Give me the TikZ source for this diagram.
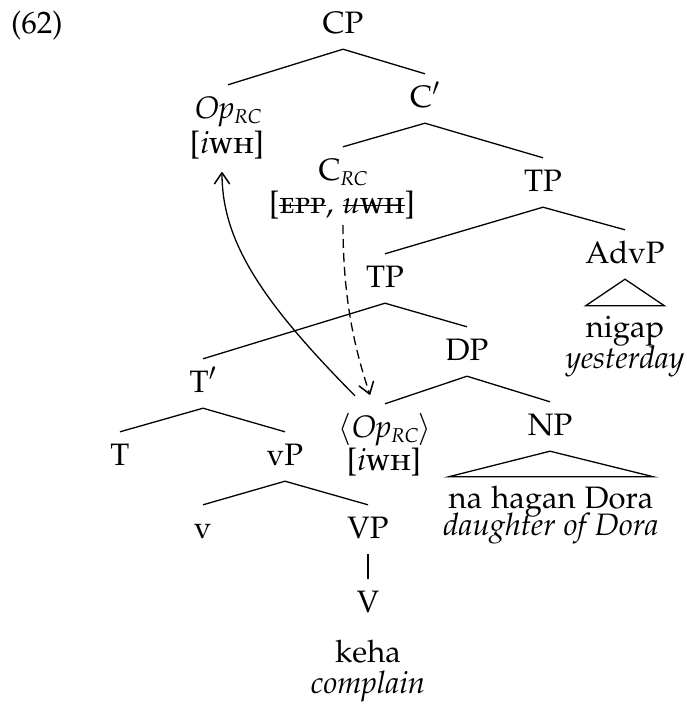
\documentclass[tikz,border=0pt]{standalone}
\usepackage[T1]{fontenc}
\usepackage[sc]{mathpazo}
\usetikzlibrary{arrows.meta}
\newcommand\RCsub{\raisebox{-5pt}{\fontsize{20}{20}\selectfont\itshape RC}}
\newsavebox\strkbox
\newcommand\strk[1]{\sbox\strkbox{#1}\rlap{\usebox\strkbox}\rule[0.22em]{\wd\strkbox}{1.1pt}}
\begin{document}
\begin{tikzpicture}[x=1pt,y=-1pt,
  every node/.style={font=\fontsize{31}{37}\selectfont},
  lbl/.style={anchor=base, inner sep=0pt, text height=33pt, text depth=16pt},
  leaf/.style={anchor=base, inner sep=0pt, text height=31pt, text depth=0pt},
  txt/.style={anchor=base, inner sep=0pt},
  branch/.style={line width=1.3pt},
  tipstyle/.style={-{Straight Barb[length=11pt,width=15pt,line width=1.5pt,round]}},
  mv/.style={line width=1.3pt, tipstyle},
  dmv/.style={line width=1.3pt, tipstyle, dash pattern=on 9pt off 5pt}]
\useasboundingbox (0,0) rectangle (686,704);
\node[txt] (ex) at (37,33) {(62)};
\node[lbl] (cp) at (343,33) {CP};
\node[lbl] (op) at (228,118) {\textit{Op}\RCsub};
\node[txt] (opf) at (227,153) {[\textit{i}\textsc{wh}]};
\node[lbl] (cbar) at (425,107) {C$'$};
\node[lbl] (crc) at (343,180) {C\RCsub};
\node[txt] (crcf) at (342,213) {[\strk{\textsc{epp}}, \strk{\textit{u}\textsc{wh}}]};
\node[lbl] (tp1) at (543,191) {TP};
\node[lbl] (advp) at (625,263) {AdvP};
\node[leaf] (nigap) at (625,337) {nigap};
\node[txt] (yday) at (625,368) {\textit{yesterday}};
\node[lbl] (tp2) at (385,287) {TP};
\node[lbl] (tbar) at (203,392) {T$'$};
\node[lbl] (dp) at (467,360) {DP};
\node[lbl] (t) at (120,465) {T};
\node[lbl] (vp) at (285,465) {vP};
\node[lbl] (lop) at (385,437) {$\langle$\textit{Op}\RCsub$\rangle$};
\node[txt] (lopf) at (384,470) {[\textit{i}\textsc{wh}]};
\node[lbl] (np) at (550,435) {NP};
\node[leaf] (nhd) at (551,508) {na hagan Dora};
\node[txt] (dod) at (551,535) {\textit{daughter of Dora}};
\node[lbl] (v) at (203,538) {v};
\node[lbl] (vbig) at (368,538) {VP};
\node[lbl] (vhead) at (368,612) {V};
\node[txt] (keha) at (368,662) {keha};
\node[txt] (compl) at (368,693) {\textit{complain}};
% branches
\draw[branch] (op.north) -- (cp.south) -- (cbar.north);
\draw[branch] (crc.north) -- (cbar.south) -- (tp1.north);
\draw[branch] (tp2.north) -- (tp1.south) -- (advp.north);
\draw[branch] (tbar.north) -- (tp2.south) -- (dp.north);
\draw[branch] (lop.north) -- (dp.south) -- (np.north);
\draw[branch] (t.north) -- (tbar.south) -- (vp.north);
\draw[branch] (v.north) -- (vp.south) -- (vbig.north);
\draw[branch] (vbig.south) -- (vhead.north);
\draw[branch] (advp.south) -- (nigap.north west) -- (nigap.north east) -- cycle;
\draw[branch] (np.south) -- (nhd.north west) -- (nhd.north east) -- cycle;
% movement
\draw[mv] ([shift={(-30,-8)}]lop.north) .. controls (260,300) and (222,240) .. ([shift={(-5,19)}]opf.base);
\draw[dmv] ([shift={(1,12)}]crcf.base) .. controls (343,300) and (355,350) .. ([shift={(-15,-9)}]lop.north);
\end{tikzpicture}
\end{document}
